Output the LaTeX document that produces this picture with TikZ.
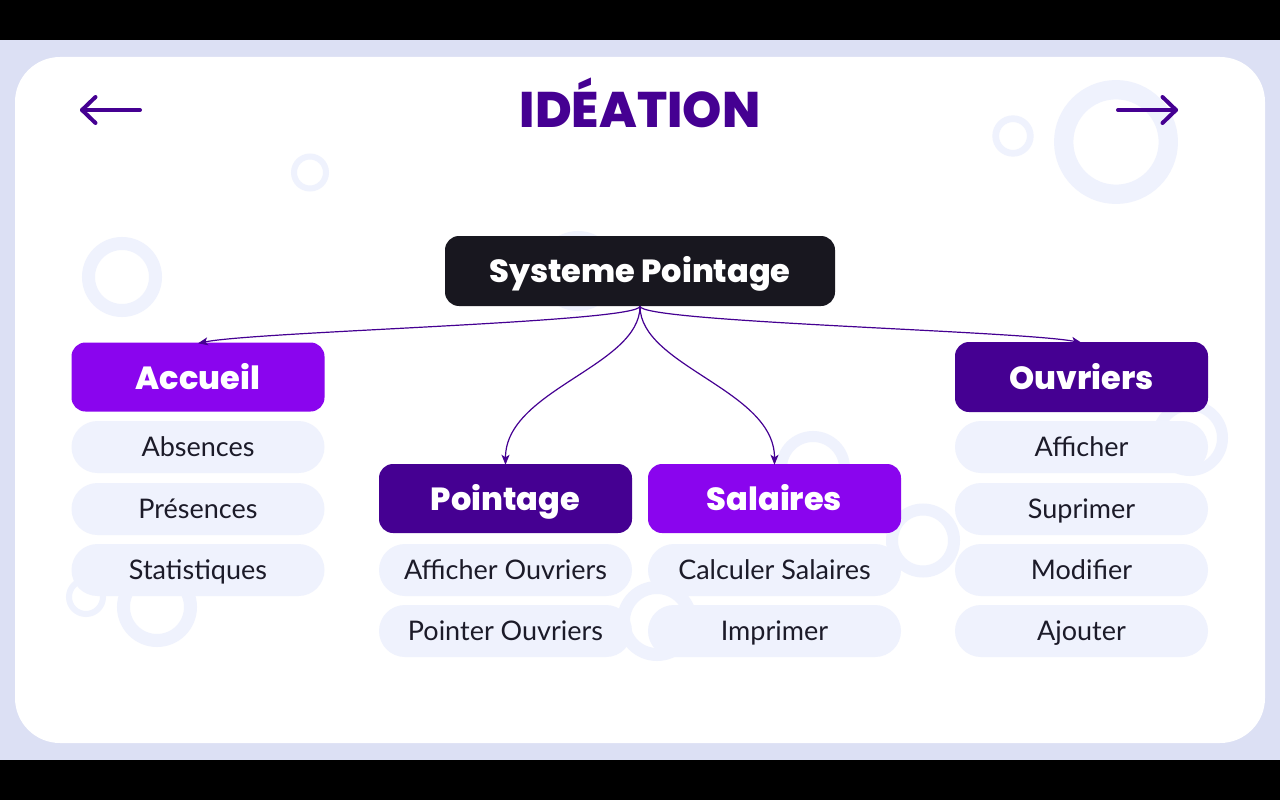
\documentclass[tikz,border=0pt]{standalone}
\usepackage{fontspec}
\setmainfont{Lato}
\newfontfamily\popheavy{Poppins ExtraBold}
\usetikzlibrary{arrows.meta}

\definecolor{bandbg}{HTML}{DCE0F4}
\definecolor{ringc}{HTML}{EFF2FD}
\definecolor{pillc}{HTML}{EFF2FD}
\definecolor{darkpurple}{HTML}{450092}
\definecolor{brightpurple}{HTML}{8A05EE}
\definecolor{inkdark}{HTML}{18171F}
\definecolor{pilltext}{HTML}{1C1B29}

\tikzset{
  headbox/.style={rounded corners=14pt, minimum width=253pt, minimum height=69pt,
    inner sep=0pt, text=white, text height=24pt, text depth=0pt,
    font=\popheavy\fontsize{32}{40}\selectfont},
  pill/.style={fill=pillc, rounded corners=26pt, minimum width=253pt, minimum height=52pt,
    inner sep=0pt, text=pilltext, text height=19.4pt, text depth=0pt,
    font=\fontsize{27}{32}\selectfont},
  conn/.style={draw=darkpurple, line width=1.2pt,
    -{Stealth[length=10pt,width=8pt,inset=2.5pt]}},
  navarrow/.style={draw=darkpurple, line width=4pt, line cap=round, line join=round},
  ring/.style={draw=ringc}
}

\begin{document}
\begin{tikzpicture}[x=1pt,y=-1pt]
  \useasboundingbox (0,0) rectangle (1280,800);

  % page frame: black bars, lavender band, white card
  \fill[black] (0,0) rectangle (1280,800);
  \fill[bandbg] (0,40) rectangle (1280,760);
  \fill[white, rounded corners=45pt] (15,57) rectangle (1265,743);

  % decorative rings
  \draw[ring, line width=13pt]   (122,277)   circle[radius=33.5];
  \draw[ring, line width=6pt]    (310,172.5) circle[radius=16];
  \draw[ring, line width=6pt]    (86,597)    circle[radius=17];
  \draw[ring, line width=13pt]   (157,607)   circle[radius=33.5];
  \draw[ring, line width=11pt]   (813,468)   circle[radius=31.5];
  \draw[ring, line width=12pt]   (923,540.5) circle[radius=31];
  \draw[ring, line width=13pt]   (657,621)   circle[radius=33.5];
  \draw[ring, line width=6.7pt]  (1013,136)  circle[radius=17.3];
  \draw[ring, line width=19.3pt] (1116,142)  circle[radius=52.3];
  \draw[ring, line width=11pt]   (1190,438)  circle[radius=32.5];
  \draw[ring, line width=13pt]   (578,271)   circle[radius=33.5];

  % title and navigation arrows
  \node[text=darkpurple, inner sep=0pt, text height=35pt, text depth=0pt,
        font=\popheavy\fontsize{50}{58}\selectfont] (title) at (640,110) {IDÉATION};
  \coordinate (prevtip) at (82,110);
  \coordinate (nexttip) at (1176,110);
  \draw[navarrow] (140,110) -- (prevtip);
  \draw[navarrow] (95.5,97) -- (prevtip) -- (95.5,123);
  \draw[navarrow] (1118,110) -- (nexttip);
  \draw[navarrow] (1162.5,97) -- (nexttip) -- (1162.5,123);

  % root and category nodes
  \node[headbox, fill=inkdark, minimum width=390pt, minimum height=70pt, text height=22.4pt,
        font=\popheavy\fontsize{32}{38}\selectfont] (root) at (640,271) {Systeme Pointage};
  \node[headbox, fill=brightpurple] (acc) at (198,377) {Accueil};
  \node[headbox, fill=darkpurple, minimum height=70pt] (ouv) at (1081.5,377) {Ouvriers};
  \node[headbox, fill=darkpurple] (poi) at (505.5,498.5) {Pointage};
  \node[headbox, fill=brightpurple] (sal) at (774.5,498.5) {Salaires};

  % items under Accueil
  \node[pill] (abs)  at (198,447) {Absences};
  \node[pill] (pres) at (198,509) {Présences};
  \node[pill] (stat) at (198,570) {Statistiques};

  % items under Pointage
  \node[pill] (affo) at (505.5,570) {Afficher Ouvriers};
  \node[pill] (ptro) at (505.5,631) {Pointer Ouvriers};

  % items under Salaires
  \node[pill] (calc) at (774.5,570) {Calculer Salaires};
  \node[pill] (impr) at (774.5,631) {Imprimer};

  % items under Ouvriers
  \node[pill] (aff) at (1081.5,447) {Afficher};
  \node[pill] (sup) at (1081.5,509) {Suprimer};
  \node[pill] (mod) at (1081.5,570) {Modifier};
  \node[pill] (ajo) at (1081.5,631) {Ajouter};

  % connectors
  \draw[conn] (root.south) .. controls +(0,16) and +(60,-12) .. ([yshift=-1pt]acc.north);
  \draw[conn] (root.south) .. controls +(0,16) and +(-60,-12) .. ([yshift=-1pt]ouv.north);
  \draw[conn] (root.south) .. controls +(0,60) and +(0,-75) .. ([yshift=-1pt]poi.north);
  \draw[conn] (root.south) .. controls +(0,60) and +(0,-75) .. ([yshift=-1pt]sal.north);
\end{tikzpicture}
\end{document}
